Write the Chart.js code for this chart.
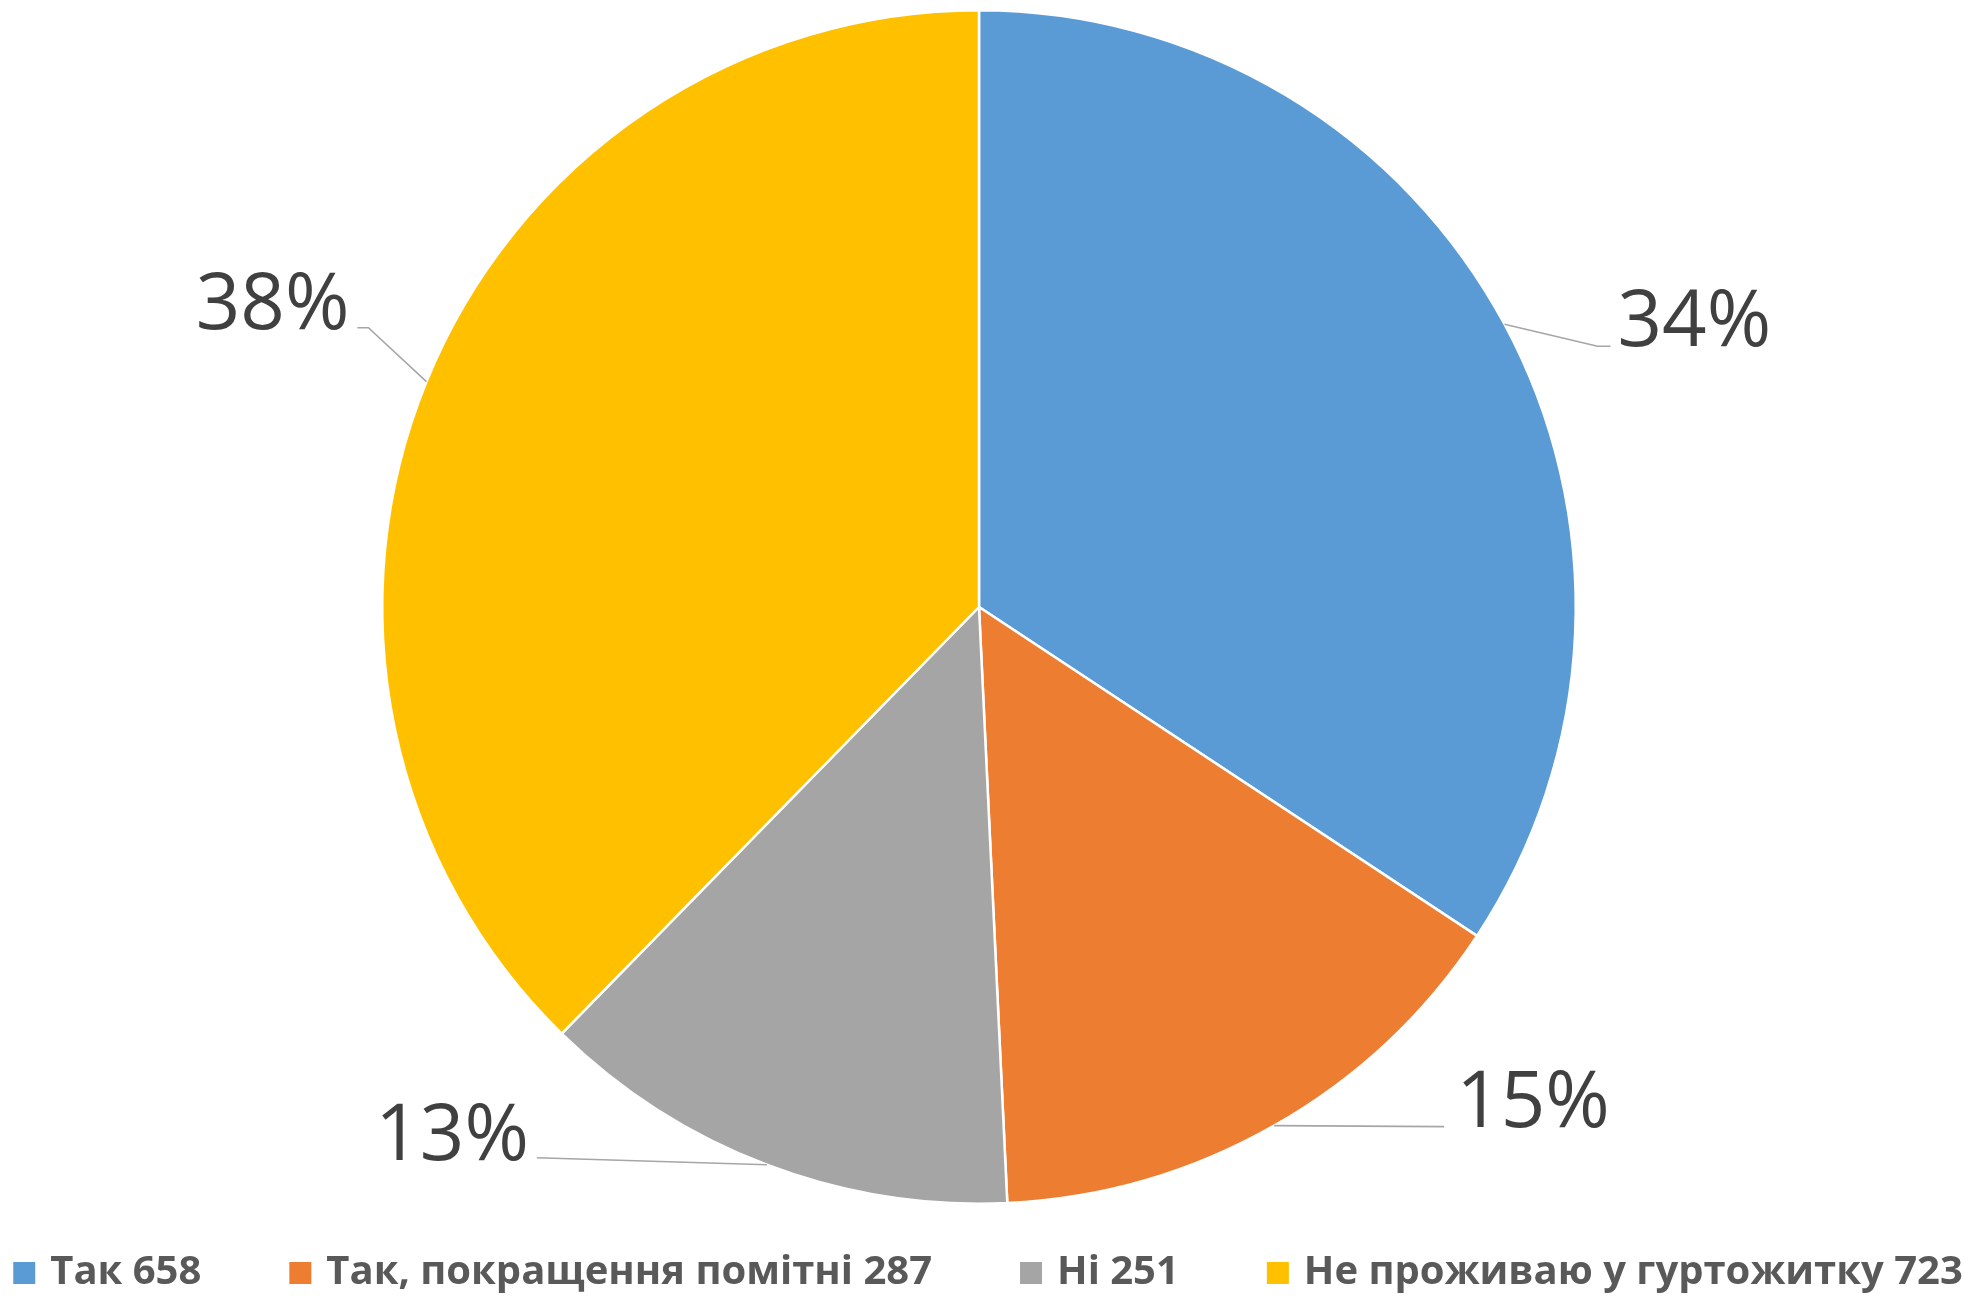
<!DOCTYPE html>
<html><head><meta charset="utf-8">
<script src="https://cdn.jsdelivr.net/npm/chart.js@4.4.1/dist/chart.umd.min.js"></script>
<style>html,body{margin:0;padding:0;background:#fff;overflow:hidden}</style>
</head><body>
<canvas id="c" width="1970" height="1296"></canvas>
<script>
// ---- data ----
const categories = ['Так', 'Так, покращення помітні', 'Ні', 'Не проживаю у гуртожитку'];
const values = [658, 287, 251, 723];
const colors = ['#5B9BD5', '#ED7D31', '#A5A5A5', '#FFC000'];

const total = values.reduce((a, b) => a + b, 0);
const percentLabels = values.map(v => Math.round(v / total * 100) + '%');
const legendLabels = categories.map((c, i) => c + ' ' + values[i]);

// leader-line / label placement relative to the arc's outer mid point (style, not data)
const leaderLayout = [
  { pts: [[93, 22], [106, 22]], text: [113, 22], align: 'left' },
  { pts: [[170, 1]], text: [182, 1], align: 'left' },
  { pts: [[-230, -7]], text: [-238, -5], align: 'right' },
  { pts: [[-58, -54], [-69, -54]], text: [-77, -53], align: 'right' }
];

const labelPlugin = {
  id: 'labels',
  afterDatasetsDraw(chart) {
    const ctx = chart.ctx;
    const meta = chart.getDatasetMeta(0);
    meta.data.forEach((arc, i) => {
      const p = arc.getProps(['x', 'y', 'startAngle', 'endAngle', 'outerRadius'], true);
      const mid = (p.startAngle + p.endAngle) / 2;
      const ex = p.x + Math.cos(mid) * p.outerRadius;
      const ey = p.y + Math.sin(mid) * p.outerRadius;
      const L = leaderLayout[i];
      ctx.save();
      ctx.strokeStyle = '#A6A6A6';
      ctx.lineWidth = 1.6;
      ctx.beginPath();
      ctx.moveTo(ex, ey);
      L.pts.forEach(q => ctx.lineTo(ex + q[0], ey + q[1]));
      ctx.stroke();
      ctx.fillStyle = '#404040';
      ctx.font = '78px "Open Sans"';
      ctx.textAlign = L.align;
      ctx.textBaseline = 'alphabetic';
      ctx.fillText(percentLabels[i], ex + L.text[0], ey + L.text[1]);
      ctx.restore();
    });
  }
};

const legendPlugin = {
  id: 'customLegend',
  afterDraw(chart) {
    const ctx = chart.ctx;
    ctx.save();
    ctx.font = 'bold 40px "Open Sans"';
    const box = 22, gapText = 15, gapItem = 88;
    const widths = legendLabels.map(t => box + gapText + ctx.measureText(t).width);
    const totalW = widths.reduce((a, b) => a + b, 0) + gapItem * (widths.length - 1);
    let x = (chart.width - totalW) / 2 + 3;
    const baseline = 1284;
    legendLabels.forEach((t, i) => {
      ctx.fillStyle = colors[i];
      ctx.fillRect(x, baseline - box, box, box);
      ctx.fillStyle = '#595959';
      ctx.textAlign = 'left';
      ctx.textBaseline = 'alphabetic';
      ctx.fillText(t, x + box + gapText, baseline);
      x += widths[i] + gapItem;
    });
    ctx.restore();
  }
};

function draw() {
  new Chart(document.getElementById('c'), {
    type: 'pie',
    data: {
      labels: categories,
      datasets: [{
        data: values,
        backgroundColor: colors,
        borderColor: '#FFFFFF',
        borderWidth: 2.5
      }]
    },
    options: {
      responsive: false,
      animation: false,
      layout: { padding: { top: 9, bottom: 91, left: 0, right: 12 } },
      plugins: { legend: { display: false }, tooltip: { enabled: false } }
    },
    plugins: [labelPlugin, legendPlugin]
  });
}
Promise.all([
  document.fonts.load('78px "Open Sans"'),
  document.fonts.load('bold 40px "Open Sans"')
]).then(draw, draw);
</script>
</body></html>
